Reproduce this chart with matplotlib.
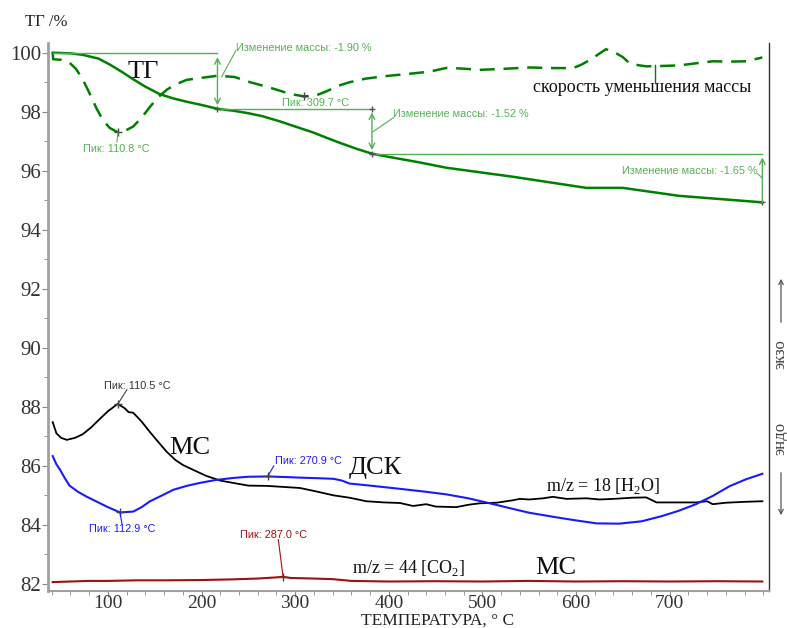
import matplotlib
matplotlib.use('Agg')
import matplotlib.pyplot as plt
from matplotlib.patches import FancyArrowPatch
from matplotlib.ticker import MultipleLocator

plt.rcParams['font.family'] = ['Liberation Serif', 'DejaVu Serif']
plt.rcParams['mathtext.fontset'] = 'custom'
plt.rcParams['mathtext.rm'] = 'Liberation Serif'

# ТГ (сплошная зелёная)
tg_t = [41, 60, 73, 90, 102, 115, 127, 140, 155, 170, 184, 200, 217, 235, 250, 265, 284,
        300, 319, 335, 350, 366, 382, 400, 430, 462, 532, 611, 650, 710, 799]
tg_v = [100.0, 99.98, 99.93, 99.8, 99.6, 99.35, 99.1, 98.85, 98.6, 98.45, 98.34, 98.23,
        98.10, 98.03, 97.95, 97.85, 97.67, 97.5, 97.3, 97.1, 96.92, 96.74, 96.58, 96.47,
        96.3, 96.1, 95.8, 95.42, 95.42, 95.15, 94.93]

# скорость уменьшения массы (пунктир)
dtg_t = [41, 41.5, 50, 59, 66, 73, 80, 88, 95, 102, 110.8, 118, 127, 136, 145, 154, 163,
         172, 184, 200, 217, 235, 252, 266, 280, 295, 309.7, 322, 334, 346, 358, 375, 394,
         420, 444, 462, 480, 497, 520, 550, 575, 597, 606, 615, 624, 632, 643, 650, 657,
         666, 675, 690, 710, 730, 746, 765, 782, 799]
dtg_v = [100.0, 99.78, 99.76, 99.66, 99.45, 99.1, 98.65, 98.1, 97.7, 97.45, 97.3, 97.35,
         97.5, 97.8, 98.17, 98.5, 98.75, 98.92, 99.08, 99.15, 99.22, 99.18, 99.0, 98.88,
         98.75, 98.6, 98.52, 98.55, 98.7, 98.88, 99.0, 99.12, 99.2, 99.28, 99.36, 99.49,
         99.46, 99.42, 99.45, 99.5, 99.48, 99.48, 99.6, 99.76, 99.95, 100.12, 99.98, 99.85,
         99.65, 99.58, 99.54, 99.55, 99.57, 99.65, 99.71, 99.7, 99.71, 99.84]

# МС m/z = 18
h2o_t = [41, 45, 50, 56, 65, 73, 82, 91, 100, 110.5, 118, 122, 127, 136, 145, 154, 163,
         172, 180, 192, 205, 220, 234, 250, 270, 290, 305, 320, 341, 358, 376, 395, 412,
         426, 440, 450, 472, 485, 497, 515, 532, 540, 550, 565, 575, 590, 611, 625, 640,
         660, 675, 686, 710, 728, 740, 746, 760, 780, 799]
h2o_v = [87.48, 87.1, 86.95, 86.88, 86.95, 87.07, 87.3, 87.58, 87.85, 88.1, 87.95, 87.82,
         87.8, 87.5, 87.14, 86.8, 86.47, 86.2, 86.03, 85.85, 85.66, 85.5, 85.42, 85.33,
         85.32, 85.28, 85.25, 85.15, 85.0, 84.92, 84.8, 84.76, 84.74, 84.64, 84.7, 84.62,
         84.6, 84.68, 84.73, 84.75, 84.83, 84.88, 84.86, 84.9, 84.95, 84.88, 84.9, 84.86,
         84.88, 84.92, 84.93, 84.76, 84.76, 84.76, 84.8, 84.7, 84.75, 84.78, 84.8]

# ДСК
dsc_t = [41, 45, 49, 54, 59, 68, 77, 91, 100, 113, 127, 136, 145, 158, 170, 184, 198, 215,
         234, 250, 271, 290, 305, 325, 341, 350, 358, 380, 412, 440, 462, 485, 508, 530,
         550, 580, 600, 622, 646, 670, 692, 710, 728, 746, 764, 782, 799]
dsc_v = [86.33, 86.05, 85.86, 85.58, 85.33, 85.12, 84.96, 84.74, 84.6, 84.42, 84.45, 84.6,
         84.8, 85.0, 85.19, 85.32, 85.42, 85.52, 85.59, 85.63, 85.64, 85.62, 85.6, 85.58,
         85.56, 85.5, 85.4, 85.33, 85.22, 85.12, 85.03, 84.9, 84.73, 84.56, 84.41, 84.25,
         84.15, 84.05, 84.04, 84.12, 84.3, 84.48, 84.7, 84.98, 85.31, 85.55, 85.73]

# МС m/z = 44
co2_t = [41, 60, 80, 100, 130, 160, 200, 230, 260, 280, 287, 295, 320, 340, 360, 400,
         450, 500, 550, 600, 650, 700, 750, 799]
co2_v = [82.06, 82.08, 82.1, 82.1, 82.12, 82.12, 82.13, 82.15, 82.18, 82.22, 82.24, 82.2,
         82.18, 82.16, 82.1, 82.08, 82.09, 82.08, 82.1, 82.08, 82.09, 82.08, 82.09, 82.08]

GREEN = '#008000'
LGREEN = '#55b055'
BLUE = '#1a1aff'
RED = '#a01010'
SANS = 'Liberation Sans'
SMALL = 7.8

fig = plt.figure(figsize=(7.87, 6.28), dpi=100)
ax = fig.add_axes([0.061, 0.059, 0.916, 0.873])

ax.plot(tg_t, tg_v, color=GREEN, lw=1.8)
ax.plot(dtg_t, dtg_v, color=GREEN, lw=1.8, dashes=(6, 3.5))
ax.plot(h2o_t, h2o_v, color='black', lw=1.3)
ax.plot(dsc_t, dsc_v, color=BLUE, lw=1.5)
ax.plot(co2_t, co2_v, color=RED, lw=1.5)

ax.set_xlim(36, 806)
ax.set_ylim(81.76, 100.34)
ax.set_xticks(range(100, 800, 100))
ax.xaxis.set_minor_locator(MultipleLocator(20))
ax.yaxis.set_major_locator(MultipleLocator(2))
ax.yaxis.set_minor_locator(MultipleLocator(1))
ax.tick_params(which='both', direction='out', color='#888888', labelsize=15,
               labelcolor='#333333', top=False, right=False)
ax.tick_params(which='major', length=4)
ax.tick_params(which='minor', length=3)
ax.tick_params(axis='y', pad=1)
ax.tick_params(axis='x', pad=-1, labelsize=14)
ax.spines['top'].set_visible(False)
ax.spines['left'].set_color('#a0a0a0')
ax.spines['left'].set_linewidth(2)
ax.spines['bottom'].set_color('#a0a0a0')
ax.spines['bottom'].set_linewidth(1.5)
ax.spines['right'].set_color('#333333')
ax.spines['right'].set_linewidth(1)

fig.text(0.032, 0.965, 'ТГ /%', fontsize=12, color='#222222', va='center')
fig.text(0.556, 0.011, 'ТЕМПЕРАТУРА, ° С', fontsize=12.5, color='#222222',
         ha='center', va='center')

# ступени потери массы
ax.plot([41, 217], [100.0, 100.0], color=LGREEN, lw=1)
ax.plot([217, 382], [98.10, 98.10], color=LGREEN, lw=1)
ax.plot([382, 799], [96.58, 96.58], color=LGREEN, lw=1)
arr = dict(arrowstyle='<->', color=LGREEN, lw=1, shrinkA=0, shrinkB=0)
ax.annotate('', xy=(217, 99.85), xytext=(217, 98.22), arrowprops=arr)
ax.annotate('', xy=(382, 97.98), xytext=(382, 96.7), arrowprops=arr)
ax.annotate('', xy=(799, 96.45), xytext=(799, 94.93),
            arrowprops=dict(arrowstyle='->', color=LGREEN, lw=1, shrinkA=0, shrinkB=0))
ax.plot([217, 382, 382, 799], [98.10, 98.10, 96.58, 94.93], '+', color='#555555', ms=5)

ax.plot([221.6, 236.6], [99.19, 100.07], color=LGREEN, lw=0.8)
ax.text(237, 100.17, 'Изменение массы: -1.90 %', family=SANS, fontsize=SMALL,
        color=LGREEN, va='center')
ax.plot([383, 405], [97.32, 97.8], color=LGREEN, lw=0.8)
ax.text(405, 97.93, 'Изменение массы: -1.52 %', family=SANS, fontsize=SMALL,
        color=LGREEN, va='center')
ax.plot([794, 799], [95.9, 95.75], color=LGREEN, lw=0.8)
ax.text(794, 96.0, 'Изменение массы: -1.65 %', family=SANS, fontsize=SMALL,
        color=LGREEN, va='center', ha='right')

# пики
ax.plot([110.8, 309.7, 110.5, 112.9, 270.9, 287.0],
        [97.3, 98.52, 88.1, 84.42, 85.64, 82.24], '+', color='#444444', ms=6)
ax.plot([109.6, 110.8], [96.98, 97.29], color=LGREEN, lw=0.8)
ax.text(108.5, 96.73, 'Пик: 110.8 °C', family=SANS, fontsize=SMALL, color=LGREEN,
        ha='center', va='center')
ax.text(322, 98.3, 'Пик: 309.7 °C', family=SANS, fontsize=SMALL, color=LGREEN,
        ha='center', va='center')
ax.plot([120.3, 110.7], [88.58, 88.1], color='#444444', lw=0.8)
ax.text(131, 88.7, 'Пик: 110.5 °C', family=SANS, fontsize=SMALL, color='#333333',
        ha='center', va='center')
ax.plot([277.2, 271], [86.0, 85.66], color=BLUE, lw=0.8)
ax.text(314, 86.17, 'Пик: 270.9 °C', family=SANS, fontsize=SMALL, color=BLUE,
        ha='center', va='center')
ax.plot([115, 112.9], [84.03, 84.42], color=BLUE, lw=0.8)
ax.text(115, 83.86, 'Пик: 112.9 °C', family=SANS, fontsize=SMALL, color=BLUE,
        ha='center', va='center')
ax.plot([282, 287], [83.5, 82.26], color=RED, lw=0.8)
ax.text(277, 83.66, 'Пик: 287.0 °C', family=SANS, fontsize=SMALL, color=RED,
        ha='center', va='center')

# подписи кривых
ax.text(138, 99.36, 'ТГ', fontsize=19, color='#111111', ha='center', va='center')
ax.plot([684, 684], [99.6, 98.98], color=GREEN, lw=1)
ax.text(671, 98.81, 'скорость уменьшения массы', fontsize=13, color='#111111',
        ha='center', va='center')
ax.text(187.5, 86.6, 'МС', fontsize=19, color='#111111', ha='center', va='center')
ax.text(386, 85.93, 'ДСК', fontsize=19, color='#111111', ha='center', va='center')
ax.text(629, 85.32, 'm/z = 18 [H$_\\mathrm{2}$O]', fontsize=13, color='#111111',
        ha='center', va='center')
ax.text(421, 82.54, 'm/z = 44 [CO$_\\mathrm{2}$]', fontsize=13, color='#111111',
        ha='center', va='center')
ax.text(578, 82.54, 'МС', fontsize=19, color='#111111', ha='center', va='center')

# эндо / экзо справа
fig.text(780 / 787, 1 - 354 / 628, 'экзо', fontsize=12, color='#444444',
         rotation=90, ha='center', va='center')
fig.text(780 / 787, 1 - 438 / 628, 'эндо', fontsize=12, color='#444444',
         rotation=90, ha='center', va='center')
fig.add_artist(FancyArrowPatch(
    (781 / 787, 1 - 325 / 628), (781 / 787, 1 - 276 / 628), transform=fig.transFigure,
    arrowstyle='->', mutation_scale=8, color='#555555', lw=0.9))
fig.add_artist(FancyArrowPatch(
    (781 / 787, 1 - 470 / 628), (781 / 787, 1 - 518 / 628), transform=fig.transFigure,
    arrowstyle='->', mutation_scale=8, color='#555555', lw=0.9))

fig.savefig('out.png', dpi=100)
